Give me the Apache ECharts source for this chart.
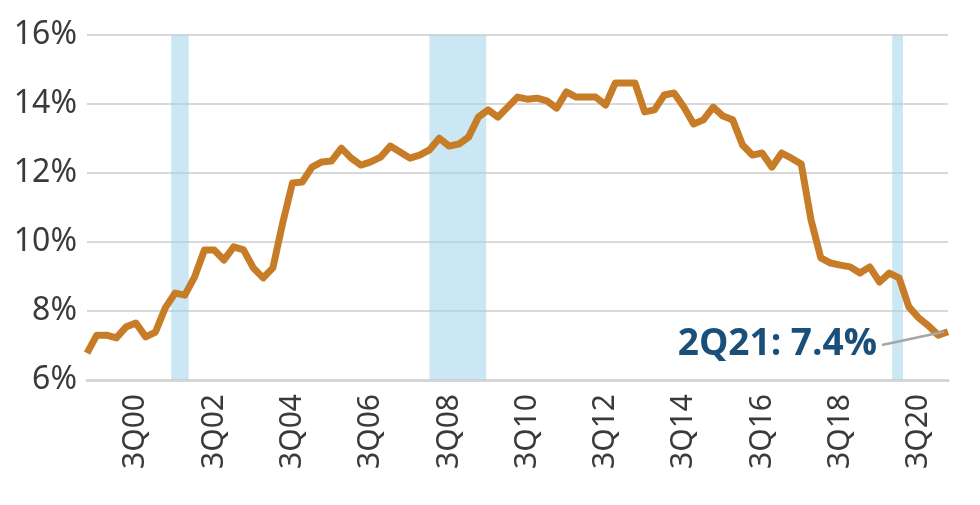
<!DOCTYPE html>
<html>
<head>
<meta charset="utf-8">
<script src="https://cdn.jsdelivr.net/npm/echarts@6/dist/echarts.min.js"></script>
<style>html,body{margin:0;padding:0;background:#fff}#chart{width:980px;height:505px}</style>
</head>
<body>
<div id="chart"></div>
<script>
// quarters 2Q99 .. 2Q21
var quarters = [];
for (var y = 1999; y <= 2021; y++) {
    for (var q = 1; q <= 4; q++) {
        if ((y === 1999 && q < 2) || (y === 2021 && q > 2)) continue;
        quarters.push(q + 'Q' + String(y).slice(2));
    }
}
var shareValues = [
    6.78, 7.30, 7.30, 7.22, 7.54, 7.65, 7.25, 7.39, 8.09, 8.52,
    8.46, 8.99, 9.77, 9.77, 9.48, 9.86, 9.77, 9.25, 8.96, 9.25,
    10.55, 11.71, 11.74, 12.17, 12.32, 12.35, 12.72, 12.43, 12.23, 12.32,
    12.46, 12.78, 12.61, 12.43, 12.52, 12.67, 13.01, 12.78, 12.84, 13.04,
    13.62, 13.83, 13.62, 13.91, 14.20, 14.14, 14.17, 14.09, 13.88, 14.35,
    14.20, 14.20, 14.20, 13.97, 14.61, 14.61, 14.61, 13.77, 13.83, 14.26,
    14.32, 13.91, 13.42, 13.54, 13.91, 13.65, 13.54, 12.81, 12.52, 12.58,
    12.17, 12.58, 12.43, 12.26, 10.64, 9.54, 9.39, 9.33, 9.28, 9.10,
    9.28, 8.84, 9.10, 8.96, 8.12, 7.80, 7.57, 7.30, 7.40
];
// recession shading, in quarter index units (fractional)
var recessions = [[8.6, 10.4], [35.0, 40.8], [82.3, 83.4]];
var yTicks = [6, 8, 10, 12, 14, 16];
var lastLabel = '2Q21: 7.4%';

var chart = echarts.init(document.getElementById('chart'));
var n = quarters.length;
chart.setOption({
    animation: false,
    grid: {left: 87, right: 32, top: 35, bottom: 125},
    xAxis: [{
        type: 'category',
        data: quarters,
        boundaryGap: false,
        axisLine: {lineStyle: {color: '#d6d6d6', width: 3}},
        axisTick: {show: false},
        axisLabel: {
            rotate: 90,
            interval: function (i) { return i % 8 === 5 || i === n - 1; },
            color: '#3a3a3a',
            fontSize: 30,
            fontFamily: 'Noto Sans',
            margin: 14
        }
    }, {
        type: 'value', min: 0, max: n - 1, show: false
    }],
    yAxis: {
        type: 'value',
        min: yTicks[0], max: yTicks[yTicks.length - 1], interval: 2,
        axisLine: {show: false},
        axisTick: {show: false},
        splitLine: {lineStyle: {color: '#d9d9d9', width: 2}},
        axisLabel: {
            formatter: '{value}%',
            color: '#3a3a3a',
            fontSize: 32,
            fontFamily: 'Noto Sans',
            margin: 10
        }
    },
    series: [{
        type: 'line',
        xAxisIndex: 1,
        data: [],
        markArea: {
            silent: true,
            itemStyle: {color: 'rgba(160,212,234,0.55)'},
            data: recessions.map(function (r) { return [{xAxis: r[0]}, {xAxis: r[1]}]; })
        }
    }, {
        type: 'line',
        data: shareValues,
        symbol: 'none',
        lineStyle: {color: '#c77d27', width: 7, join: 'round'},
        z: 5
    }]
});

var endPt = chart.convertToPixel({xAxisIndex: 0, yAxisIndex: 0}, [n - 1, shareValues[n - 1]]);
chart.setOption({
    graphic: [{
        type: 'line',
        shape: {x1: 882, y1: 345, x2: endPt[0] - 4, y2: endPt[1]},
        style: {stroke: '#a6a6a6', lineWidth: 2.5},
        z: 10
    }, {
        type: 'text',
        right: 980 - 877, top: 326,
        style: {text: lastLabel, fill: '#1a4f7a', font: 'bold 37px "Open Sans"'},
        z: 10
    }]
});
</script>
</body>
</html>
